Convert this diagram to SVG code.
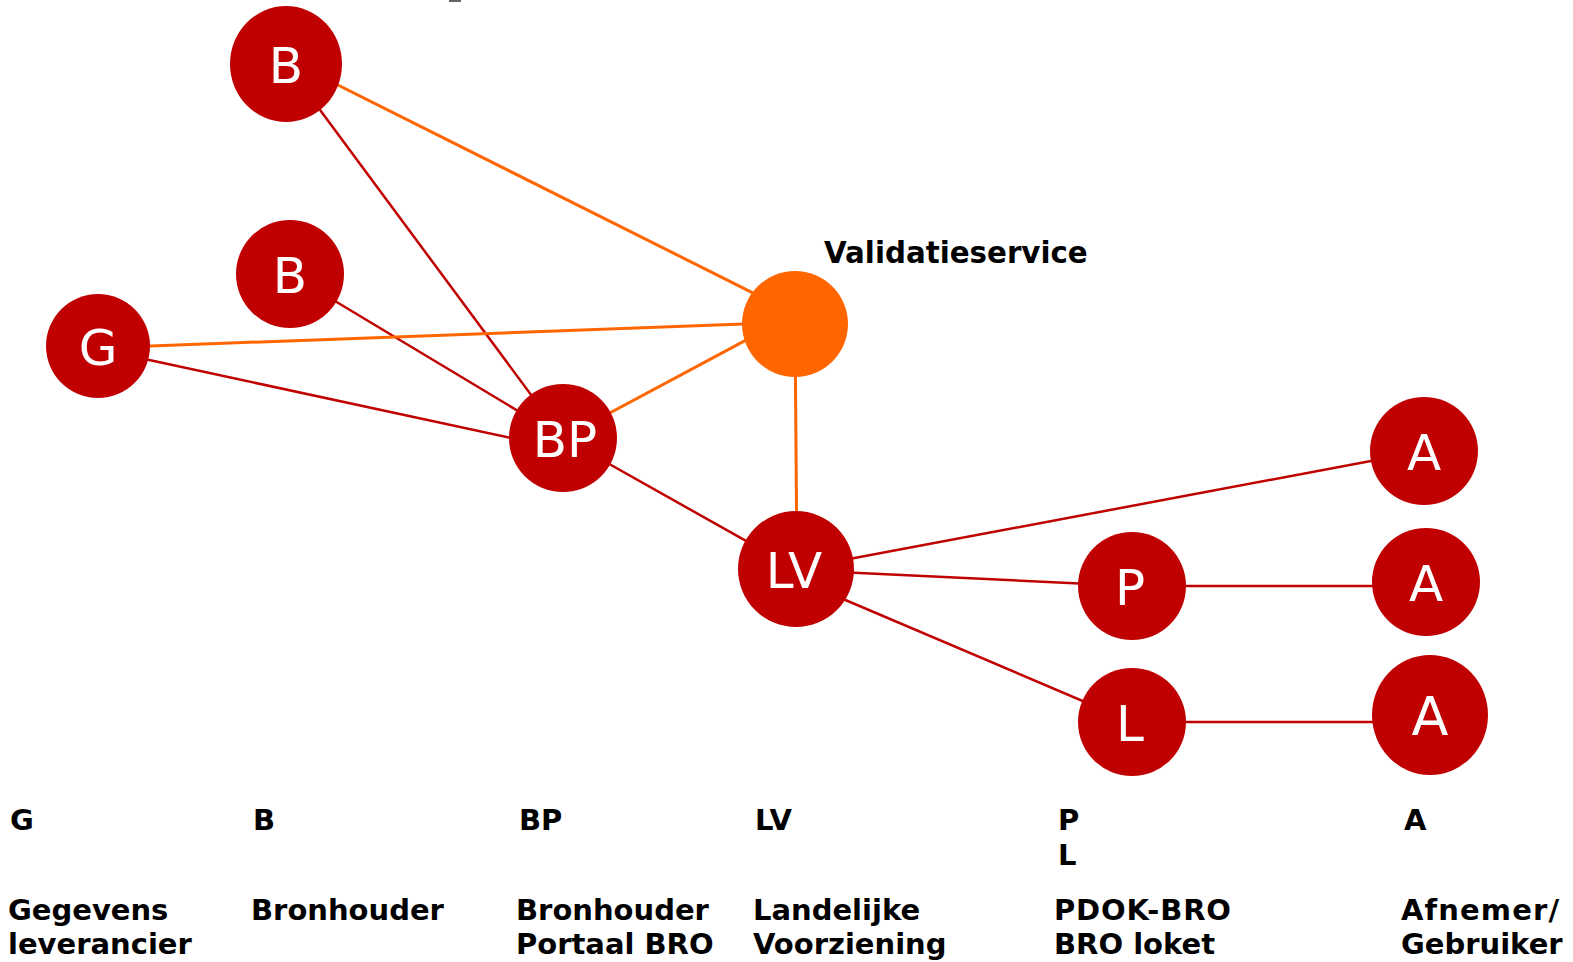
<svg xmlns="http://www.w3.org/2000/svg" width="1573" height="962" viewBox="0 0 1573 962">
<style>
.n{fill:#C00000}
.v{fill:#FF6600}
.r{stroke:#C00000;stroke-width:2.5;fill:none}
.o{stroke:#FF6600;stroke-width:3;fill:none}
.t{font-family:"DejaVu Sans",Verdana,sans-serif;font-size:50px;fill:#fff;text-anchor:middle}
.l{font-family:"DejaVu Sans",Verdana,sans-serif;font-weight:bold;font-size:29px;fill:#000}
</style>
<rect width="1573" height="962" fill="#fff"/>
<rect x="449" y="0" width="12" height="2" fill="#666"/>
<g id="connectors">
<line class="r" x1="286" y1="64" x2="563" y2="438"/>
<line class="o" x1="300" y1="66" x2="795" y2="314"/>
<line class="r" x1="290" y1="274" x2="563" y2="438"/>
<line class="o" x1="98" y1="348" x2="795" y2="322"/>
<line class="r" x1="140" y1="358" x2="520" y2="440"/>
<line class="o" x1="563" y1="438" x2="795" y2="314"/>
<line class="r" x1="563" y1="438" x2="796" y2="569"/>
<line class="o" x1="795" y1="324" x2="797" y2="569"/>
<line class="r" x1="796" y1="569" x2="1424" y2="451"/>
<line class="r" x1="796" y1="570" x2="1132" y2="586"/>
<line class="r" x1="796" y1="579" x2="1132" y2="722"/>
<line class="r" x1="1132" y1="586" x2="1426" y2="586"/>
<line class="r" x1="1132" y1="722" x2="1430" y2="722"/>
</g>
<g id="B1"><ellipse class="n" cx="286" cy="64" rx="56" ry="58"/><text class="t" x="286" y="83">B</text></g>
<g id="B2"><ellipse class="n" cx="290" cy="274" rx="54" ry="54"/><text class="t" x="290" y="293">B</text></g>
<g id="G"><circle class="n" cx="98" cy="346" r="52"/><text class="t" x="98" y="365">G</text></g>
<g id="BP"><circle class="n" cx="563" cy="438" r="54"/><text class="t" x="565" y="457">BP</text></g>
<g id="V"><circle class="v" cx="795" cy="324" r="53"/><text class="l" x="824" y="263" style="font-size:29.3px">Validatieservice</text></g>
<g id="LV"><circle class="n" cx="796" cy="569" r="58"/><text class="t" x="794" y="588">LV</text></g>
<g id="P"><circle class="n" cx="1132" cy="586" r="54"/><text class="t" x="1130" y="605">P</text></g>
<g id="L"><circle class="n" cx="1132" cy="722" r="54"/><text class="t" x="1130" y="741">L</text></g>
<g id="A1"><circle class="n" cx="1424" cy="451" r="54"/><text class="t" x="1424" y="470">A</text></g>
<g id="A2"><circle class="n" cx="1426" cy="582" r="54"/><text class="t" x="1426" y="601">A</text></g>
<g id="A3"><ellipse class="n" cx="1430" cy="715" rx="58" ry="60"/><text class="t" x="1430" y="735" style="font-size:54px">A</text></g>
<g id="legend">
<text class="l" x="10" y="830">G</text>
<text class="l" x="8" y="920">Gegevens</text>
<text class="l" x="8" y="954">leverancier</text>
<text class="l" x="253" y="830">B</text>
<text class="l" x="251" y="920">Bronhouder</text>
<text class="l" x="519" y="830">BP</text>
<text class="l" x="516" y="920">Bronhouder</text>
<text class="l" x="516" y="954">Portaal BRO</text>
<text class="l" x="755" y="830">LV</text>
<text class="l" x="753" y="920">Landelijke</text>
<text class="l" x="753" y="954">Voorziening</text>
<text class="l" x="1058" y="830">P</text>
<text class="l" x="1058" y="865">L</text>
<text class="l" x="1054" y="920" textLength="177" lengthAdjust="spacing">PDOK-BRO</text>
<text class="l" x="1054" y="954">BRO loket</text>
<text class="l" x="1404" y="830">A</text>
<text class="l" x="1401" y="920" textLength="158" lengthAdjust="spacing">Afnemer/</text>
<text class="l" x="1401" y="954">Gebruiker</text>
</g>
</svg>
